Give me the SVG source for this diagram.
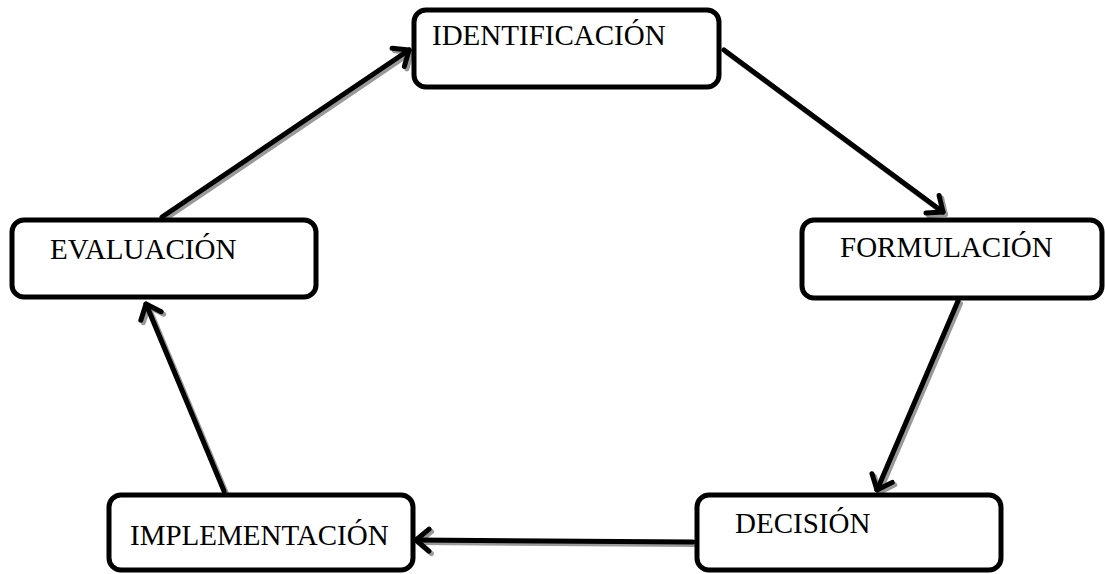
<svg xmlns="http://www.w3.org/2000/svg" width="1105" height="574" viewBox="0 0 1105 574">
<style>
.box{fill:#fff;stroke:#000;stroke-width:5}
.lbl{font-family:"Liberation Serif","Times New Roman",serif;font-size:29px;fill:#000}
.ln{fill:none;stroke:#000;stroke-width:5;stroke-linecap:round}
.sh{fill:none;stroke:#999;stroke-width:5;stroke-linecap:round}
</style>
<defs>
<marker id="ah" viewBox="-18 -14 22 28" refX="0" refY="0" markerWidth="22" markerHeight="28" markerUnits="userSpaceOnUse" orient="auto">
<path d="M -13 -11 L 0 0 L -13 11" fill="none" stroke="#000" stroke-width="5" stroke-linecap="round" stroke-linejoin="round"/>
</marker>
<marker id="ahs" viewBox="-18 -14 22 28" refX="0" refY="0" markerWidth="22" markerHeight="28" markerUnits="userSpaceOnUse" orient="auto">
<path d="M -13 -11 L 0 0 L -13 11" fill="none" stroke="#999" stroke-width="5" stroke-linecap="round" stroke-linejoin="round"/>
</marker>
</defs>
<g id="connectors">
<g transform="translate(2.5,2.5)">
<line class="sh" x1="162" y1="217" x2="409" y2="50" marker-end="url(#ahs)"/>
<line class="sh" x1="724" y1="50" x2="943" y2="212" marker-end="url(#ahs)"/>
<line class="sh" x1="958" y1="301" x2="877" y2="490" marker-end="url(#ahs)"/>
<line class="sh" x1="693" y1="542" x2="416" y2="540" marker-end="url(#ahs)"/>
<line class="sh" x1="224" y1="491" x2="146" y2="304" marker-end="url(#ahs)"/>
</g>
<line class="ln" x1="162" y1="217" x2="409" y2="50" marker-end="url(#ah)"/>
<line class="ln" x1="724" y1="50" x2="943" y2="212" marker-end="url(#ah)"/>
<line class="ln" x1="958" y1="301" x2="877" y2="490" marker-end="url(#ah)"/>
<line class="ln" x1="693" y1="542" x2="416" y2="540" marker-end="url(#ah)"/>
<line class="ln" x1="224" y1="491" x2="146" y2="304" marker-end="url(#ah)"/>
</g>
<g id="identificacion">
<rect class="box" x="414" y="10" width="305" height="77" rx="12"/>
<text class="lbl" x="432" y="45">IDENTIFICACIÓN</text>
</g>
<g id="formulacion">
<rect class="box" x="802" y="220" width="300" height="78" rx="12"/>
<text class="lbl" x="840" y="257">FORMULACIÓN</text>
</g>
<g id="decision">
<rect class="box" x="697" y="495" width="304" height="75" rx="12"/>
<text class="lbl" x="735" y="533">DECISIÓN</text>
</g>
<g id="implementacion">
<rect class="box" x="109" y="495" width="304" height="75" rx="12"/>
<text class="lbl" x="130" y="545">IMPLEMENTACIÓN</text>
</g>
<g id="evaluacion">
<rect class="box" x="12" y="220" width="304" height="77" rx="12"/>
<text class="lbl" x="50" y="259">EVALUACIÓN</text>
</g>
</svg>
